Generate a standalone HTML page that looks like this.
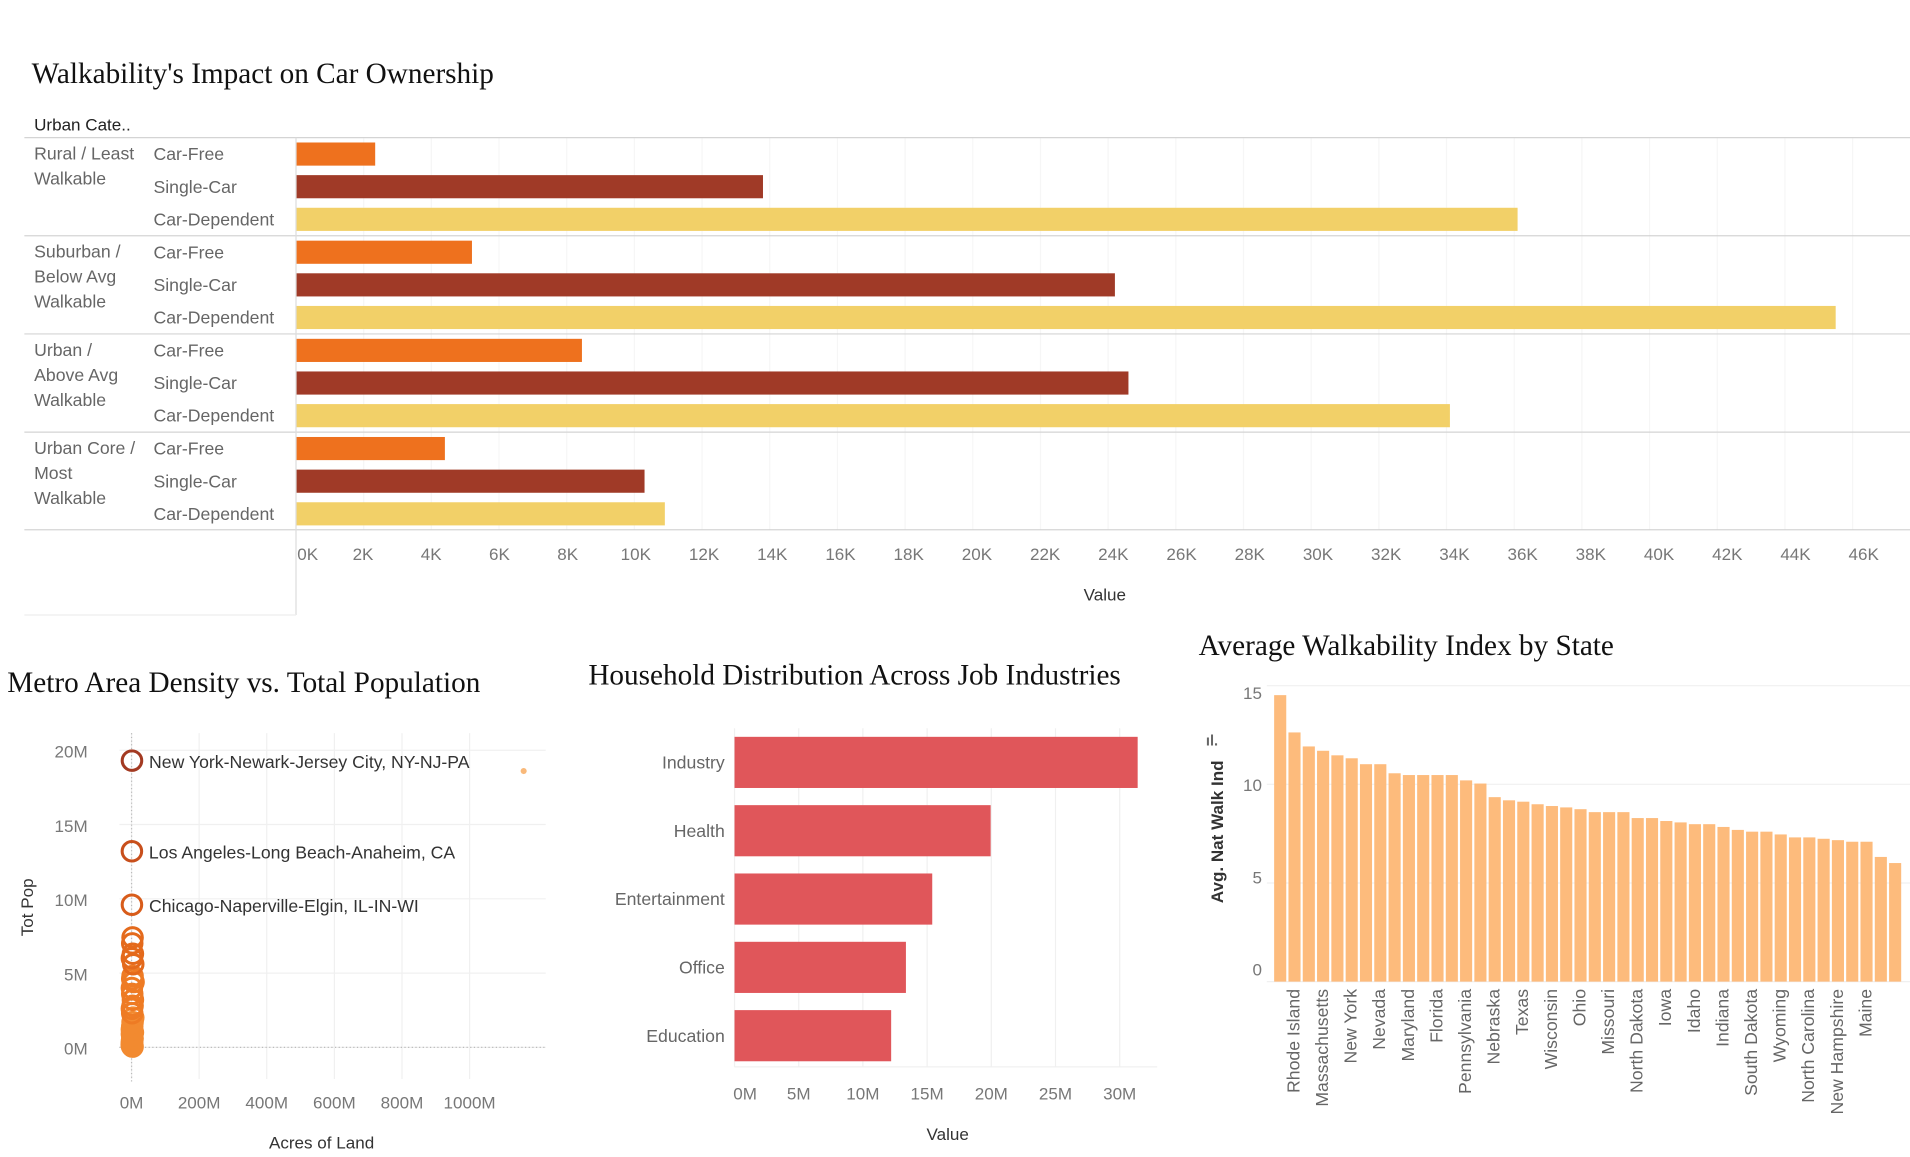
<!DOCTYPE html>
<html><head><meta charset="utf-8"><style>
html,body{margin:0;padding:0;background:#fff;width:1910px;height:1157px;overflow:hidden}
svg{display:block}
text{font-family:"Liberation Sans",sans-serif}
.ttl{font-family:"Liberation Serif",serif;font-size:24px;fill:#111}
.tk{font-size:14px;fill:#777}
.lb{font-size:14.5px;fill:#666}
</style></head><body>
<svg id="s" width="1910" height="1157" viewBox="0 0 1568 950" preserveAspectRatio="none" xmlns="http://www.w3.org/2000/svg">
<text class="ttl" x="26" y="68">Walkability's Impact on Car Ownership</text>
<text x="28" y="107" font-size="14" fill="#222">Urban Cate..</text>
<g id="top"></g>
<text class="ttl" x="6" y="568">Metro Area Density vs. Total Population</text>
<g id="sc"></g>
<text class="ttl" x="483" y="562">Household Distribution Across Job Industries</text>
<g id="ind"></g>
<text class="ttl" x="984" y="538">Average Walkability Index by State</text>
<g id="st"></g>
</svg>
<script>
const groups=["Rural / Least|Walkable","Suburban /|Below Avg|Walkable","Urban /|Above Avg|Walkable","Urban Core /|Most|Walkable"];
const owners=["Car-Free","Single-Car","Car-Dependent"];
const carFree=[2.34,5.2,8.45,4.4];
const singleCar=[13.8,24.2,24.6,10.3];
const carDep=[36.1,45.5,34.1,10.9];
const topTicks=[0,2,4,6,8,10,12,14,16,18,20,22,24,26,28,30,32,34,36,38,40,42,44,46];

const metroAcres=[1.2,1.0,1.1,3,2,4,1,5,3,2,6,1,2,4,3,1,2,5,3,2,1,4,2,3,1,2,0.5,1,3,2,1,1160];
const metroPop=[19.3,13.2,9.6,7.4,7.0,6.3,6.0,5.6,4.8,4.6,4.4,4.0,3.6,3.2,2.8,2.6,2.3,2.0,1.7,1.4,1.2,1.0,0.8,0.6,0.4,0.3,0.2,0.1,0.05,0.5,0.9,18.6];
const metroNames=["New York-Newark-Jersey City, NY-NJ-PA","Los Angeles-Long Beach-Anaheim, CA","Chicago-Naperville-Elgin, IL-IN-WI"];
const scXTicks=[0,200,400,600,800,1000];
const scYTicks=[0,5,10,15,20];

const industries=["Industry","Health","Entertainment","Office","Education"];
const households=[31.4,19.95,15.4,13.35,12.2];
const indTicks=[0,5,10,15,20,25,30];

const walkVals=[14.52,12.63,11.92,11.70,11.47,11.32,11.02,11.02,10.56,10.47,10.47,10.47,10.47,10.20,10.04,9.35,9.19,9.12,8.99,8.90,8.83,8.74,8.59,8.59,8.59,8.29,8.29,8.14,8.07,7.98,7.98,7.84,7.69,7.60,7.60,7.46,7.31,7.31,7.24,7.17,7.09,7.09,6.32,6.01];
const stateLabels=["","Rhode Island","","Massachusetts","","New York","","Nevada","","Maryland","","Florida","","Pennsylvania","","Nebraska","","Texas","","Wisconsin","","Ohio","","Missouri","","North Dakota","","Iowa","","Idaho","","Indiana","","South Dakota","","Wyoming","","North Carolina","","New Hampshire","","Maine","",""];
const stTicks=[0,5,10,15];

const NS="http://www.w3.org/2000/svg";
function el(p,t,a,txt){const e=document.createElementNS(NS,t);for(const k in a)e.setAttribute(k,a[k]);if(txt!=null)e.textContent=txt;p.appendChild(e);return e;}

// ---- top chart
(function(){
const g=document.getElementById('top');
const x=v=>243+v*27.78;
const lx=v=>298+(v-2)*28.0;
topTicks.forEach(t=>{el(g,'line',{x1:x(t),x2:x(t),y1:113,y2:435,stroke:'#f6f6f6'});
 const tx=el(g,'text',{class:'tk',x:t===0?244:lx(t),y:460,'text-anchor':t===0?'start':'middle'},t+'K');
 });
const series=[carFree,singleCar,carDep],cols=['#ee711e','#a03a27','#f2d068'];
groups.forEach((gr,i)=>{
 const y0=113+i*80.6;
 gr.split('|').forEach((ln,j)=>{const t=el(g,'text',{class:'lb',x:28,y:y0+18+j*20.5},ln);
  });
 owners.forEach((o,k)=>{
  const cy=y0+13.5+k*26.8;
  const t=el(g,'text',{class:'lb',x:126,y:cy+5},o);
  
  const r=el(g,'rect',{x:243,y:cy-9.5,width:x(series[k][i])-243,height:19,fill:cols[k]});
  
 });
 el(g,'line',{x1:20,x2:1568,y1:y0,y2:y0,stroke:'#d4d4d4'});
});
el(g,'line',{x1:20,x2:1568,y1:435,y2:435,stroke:'#d4d4d4'});
el(g,'line',{x1:243,x2:243,y1:113,y2:505,stroke:'#ddd'});
el(g,'line',{x1:20,x2:243,y1:505,y2:505,stroke:'#eee'});
const a=el(g,'text',{x:907,y:493,'font-size':14,fill:'#333','text-anchor':'middle'},'Value');

})();

// ---- scatter
(function(){
const g=document.getElementById('sc');
const x=v=>108+v*0.2775, y=v=>860-v*12.2;
scXTicks.forEach(t=>{el(g,'line',{x1:x(t),x2:x(t),y1:602,y2:886,stroke:'#f0f0f0'});
 const tx=el(g,'text',{class:'tk',x:x(t),y:910,'text-anchor':'middle','font-size':15},t+'M');
 });
scYTicks.forEach(t=>{el(g,'line',{x1:98,x2:448,y1:y(t),y2:y(t),stroke:'#f0f0f0'});
 const tx=el(g,'text',{class:'tk',x:72,y:y(t)+6,'text-anchor':'end','font-size':15},t+'M');
 });
el(g,'line',{x1:108,x2:108,y1:602,y2:890,stroke:'#bbb','stroke-dasharray':'1,2'});
el(g,'line',{x1:98,x2:448,y1:860,y2:860,stroke:'#bbb','stroke-dasharray':'1,2'});
const cols=['#a33a22','#b8441f','#c84f1c','#d85c1a','#e46a1c','#ee7b24','#f28a30'];
for(let i=metroPop.length-2;i>=0;i--){
 const c=cols[Math.min(6,Math.floor((20-metroPop[i])/3))];
 const r=el(g,'circle',{cx:x(metroAcres[i]),cy:y(metroPop[i]),r:8,fill:metroPop[i]<1.5?c:'none',stroke:c,'stroke-width':2.5,'fill-opacity':0.5});
 
}
const L=metroPop.length-1;
const d=el(g,'circle',{cx:x(metroAcres[L]),cy:y(metroPop[L]),r:2.5,fill:'#f9b97a'});

metroNames.forEach((n,i)=>{const t=el(g,'text',{x:x(metroAcres[i])+14,y:y(metroPop[i])+6,'font-size':14.5,fill:'#333'},n);
 });
const a=el(g,'text',{x:264,y:943,'font-size':14,fill:'#333','text-anchor':'middle'},'Acres of Land');

const b=el(g,'text',{x:27,y:745,'font-size':14,fill:'#333','text-anchor':'middle',transform:'rotate(-90 27 745)'},'Tot Pop');

})();

// ---- industries
(function(){
const g=document.getElementById('ind');
const x=v=>603+v*10.54;
indTicks.forEach(t=>{el(g,'line',{x1:x(t),x2:x(t),y1:598,y2:876,stroke:'#f0f0f0'});
 const tx=el(g,'text',{class:'tk',x:t===0?602:x(t),y:903,'text-anchor':t===0?'start':'middle','font-size':15},t+'M');
 });
el(g,'line',{x1:603,x2:950,y1:876,y2:876,stroke:'#f0f0f0'});
industries.forEach((n,i)=>{
 const cy=626+i*56.1;
 const r=el(g,'rect',{x:603,y:cy-21,width:x(households[i])-603,height:42,fill:'#e0565a'});
 
 const t=el(g,'text',{class:'lb',x:595,y:cy+5,'text-anchor':'end','font-size':15},n);
 
});
const a=el(g,'text',{x:778,y:936,'font-size':14,fill:'#333','text-anchor':'middle'},'Value');

})();

// ---- states
(function(){
const g=document.getElementById('st');
const y=v=>806-v*16.2, pitch=11.74, x0=1046;
stTicks.forEach(t=>{el(g,'line',{x1:1040,x2:1568,y1:y(t),y2:y(t),stroke:'#f0f0f0'});
 const tx=el(g,'text',{class:'tk',x:1036,y:y(t)-5+t*16/15,'text-anchor':'end','font-size':15},t);
 });
walkVals.forEach((v,i)=>{
 const r=el(g,'rect',{x:x0+i*pitch,y:y(v),width:pitch-1.8,height:y(0)-y(v),fill:'#fdbb7c'});
 
 if(stateLabels[i]){const cx=x0+i*pitch+5+4;
  const t=el(g,'text',{class:'lb',x:cx,y:812,'text-anchor':'end',transform:'rotate(-90 '+cx+' 812)'},stateLabels[i]);
  }
});
const b=el(g,'text',{x:1004,y:683,'font-size':14,'font-weight':'bold',fill:'#333','text-anchor':'middle',transform:'rotate(-90 1004 683)'},'Avg. Nat Walk Ind');

const ic=el(g,'text',{x:990,y:612,'font-size':12,'font-weight':'bold',fill:'#666'},'ıl.');

})();
</script>
</body></html>
